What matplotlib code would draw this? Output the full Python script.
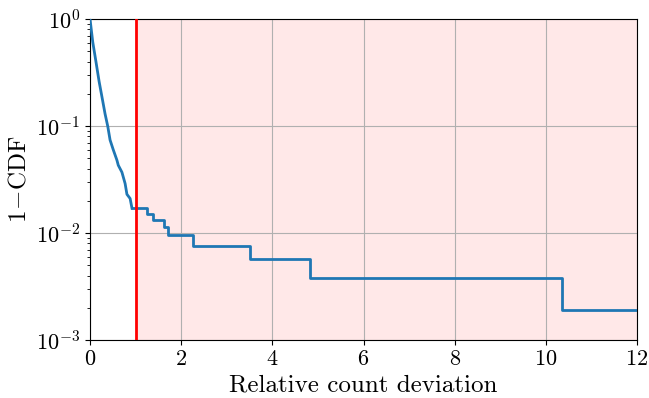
import matplotlib
matplotlib.use("Agg")
import matplotlib.pyplot as plt

plt.rcParams['font.family'] = 'serif'
plt.rcParams['font.serif'] = ['cmr10']
plt.rcParams['mathtext.fontset'] = 'cm'
plt.rcParams['axes.formatter.use_mathtext'] = True
plt.rcParams['axes.unicode_minus'] = True

# steep (near-continuous) part of the survival curve
x_head = [0, 0.06, 0.13, 0.20, 0.28, 0.33, 0.39, 0.44, 0.51, 0.59, 0.62, 0.70, 0.77, 0.81, 0.88, 0.92]
y_head = [1.0, 0.61, 0.40, 0.26, 0.17, 0.13, 0.099, 0.074, 0.060, 0.048, 0.043, 0.037, 0.029, 0.023, 0.021, 0.0171]
# stepped tail
x_tail = [0.92, 1.24, 1.39, 1.62, 1.72, 2.27, 3.50, 4.83, 10.35, 12.0]
y_tail = [0.0171, 0.0152, 0.0133, 0.0114, 0.0095, 0.0076, 0.0057, 0.0038, 0.0019, 0.0019]

threshold = 1.0
x_max = 12
x_ticks = [0, 2, 4, 6, 8, 10, 12]

fig = plt.figure(figsize=(6.49, 3.98), dpi=100)
ax = fig.add_axes([0.1387, 0.1457, 0.8428, 0.8065])

ax.axvspan(threshold, x_max, color='red', alpha=0.09, lw=0, zorder=0)
ax.plot(x_head, y_head, color='#1f77b4', lw=2, zorder=3)
ax.step(x_tail, y_tail, where='post', color='#1f77b4', lw=2, zorder=3)
ax.axvline(threshold, color='red', lw=2, zorder=4)

ax.set_yscale('log')
ax.set_xlim(0, x_max)
ax.set_ylim(1e-3, 1)
ax.set_xticks(x_ticks)
ax.grid(True, which='major', color='#b0b0b0', lw=0.8, zorder=1)
ax.set_axisbelow(True)
ax.tick_params(labelsize=16)
ax.set_xlabel('Relative count deviation', fontsize=18)
ax.set_ylabel(r'$1\!-\!\mathrm{CDF}$', fontsize=18)

fig.savefig('out.png', dpi=100)
